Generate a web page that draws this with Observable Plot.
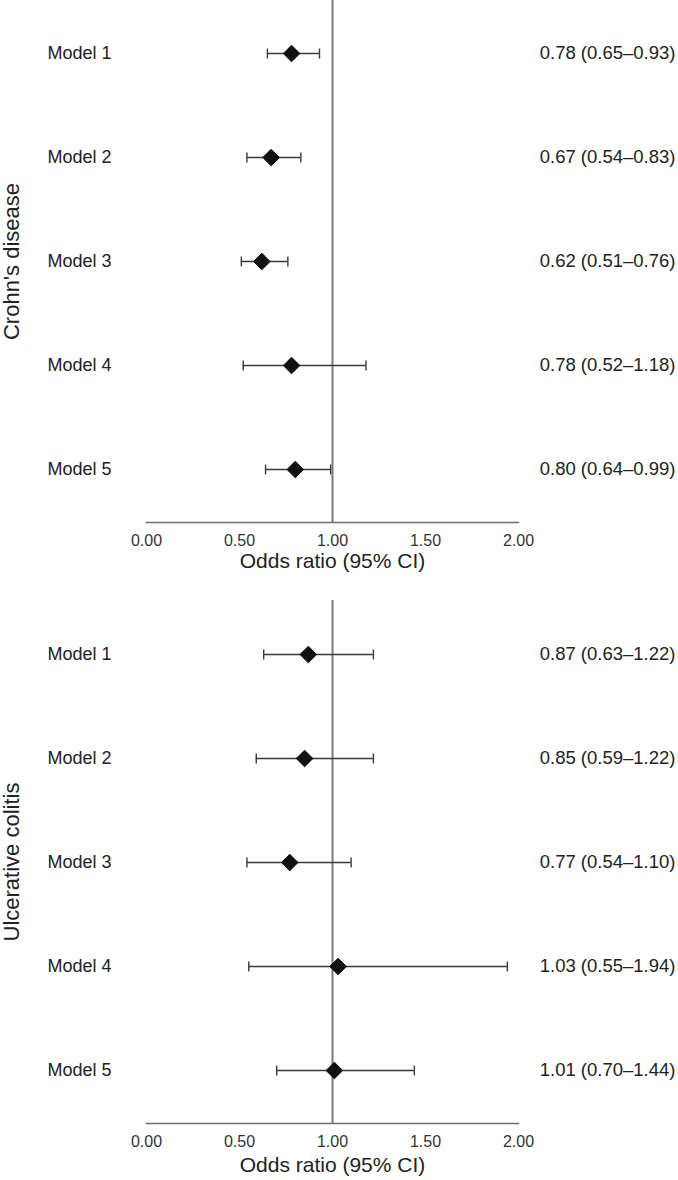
<!DOCTYPE html>
<html>
<head>
<meta charset="utf-8">
<script src="https://cdn.jsdelivr.net/npm/d3@7"></script>
<script src="https://cdn.jsdelivr.net/npm/@observablehq/plot@0.6"></script>
<style>
  html, body { margin: 0; padding: 0; background: #fff; }
  #chart svg { display: block; }
</style>
</head>
<body>
<div id="chart"></div>
<script>
const models = ["Model 1", "Model 2", "Model 3", "Model 4", "Model 5"];
const xTicks = [0, 0.5, 1, 1.5, 2];

const cdTitle = "Crohn's disease";
const cdOR = [0.78, 0.67, 0.62, 0.78, 0.80];
const cdLo = [0.65, 0.54, 0.51, 0.52, 0.64];
const cdHi = [0.93, 0.83, 0.76, 1.18, 0.99];

const ucTitle = "Ulcerative colitis";
const ucOR = [0.87, 0.85, 0.77, 1.03, 1.01];
const ucLo = [0.63, 0.59, 0.54, 0.55, 0.70];
const ucHi = [1.22, 1.22, 1.10, 1.94, 1.44];

const axisLabel = "Odds ratio (95% CI)";

const capSymbol = {
  draw(ctx, size) {
    const r = Math.sqrt(size / Math.PI);
    ctx.moveTo(0, -r);
    ctx.lineTo(0, r);
  }
};

function panel(title, or, lo, hi, height, marginBottom, labelDy) {
  const data = models.map((m, i) => ({
    model: m, or: or[i], lo: lo[i], hi: hi[i],
    label: `${or[i].toFixed(2)} (${lo[i].toFixed(2)}–${hi[i].toFixed(2)})`
  }));
  return Plot.plot({
    width: 678,
    height,
    marginTop: 0,
    marginLeft: 146,
    marginRight: 160,
    marginBottom,
    style: { fontFamily: "'Liberation Sans', Arial, Helvetica, sans-serif", color: "#222", background: "#fff" },
    x: { domain: [0, 2] },
    y: { type: "point", domain: models, padding: 0.5, axis: null },
    marks: [
      Plot.frame({ anchor: "bottom", stroke: "#6f6f6f", strokeWidth: 1.6 }),
      Plot.ruleX([1], { stroke: "#7a7a7a", strokeWidth: 2 }),
      Plot.axisX({ ticks: xTicks, tickSize: 0, tickPadding: 12, fontSize: 16, tickFormat: d => d.toFixed(2), label: null, fill: "#333" }),
      Plot.ruleY(data, { y: "model", x1: "lo", x2: "hi", stroke: "#3a3a3a", strokeWidth: 1.4 }),
      Plot.dot(data, { x: "lo", y: "model", symbol: capSymbol, r: 5, fill: "none", stroke: "#3a3a3a", strokeWidth: 1.4 }),
      Plot.dot(data, { x: "hi", y: "model", symbol: capSymbol, r: 5, fill: "none", stroke: "#3a3a3a", strokeWidth: 1.4 }),
      Plot.dot(data, { x: "or", y: "model", symbol: d3.symbolDiamond2, r: 7.5, fill: "#111", stroke: "#111", strokeWidth: 1 }),
      Plot.text(data, { y: "model", text: "model", frameAnchor: "left", dx: -99, textAnchor: "start", fontSize: 18, fill: "#222" }),
      Plot.text(data, { y: "model", text: "label", frameAnchor: "right", dx: 157, textAnchor: "end", fontSize: 18.5, fill: "#222" }),
      Plot.text([title], { text: d => d, frameAnchor: "left", dx: -135, rotate: -90, textAnchor: "middle", lineAnchor: "middle", fontSize: 22, fill: "#222" }),
      Plot.text([axisLabel], { text: d => d, x: () => 1, frameAnchor: "bottom", lineAnchor: "middle", textAnchor: "middle", dy: labelDy, fontSize: 21, fill: "#222" })
    ]
  });
}

const chart = document.getElementById("chart");
chart.append(panel(cdTitle, cdOR, cdLo, cdHi, 600, 78, 39));
chart.append(panel(ucTitle, ucOR, ucLo, ucHi, 580, 57, 42));
</script>
</body>
</html>
